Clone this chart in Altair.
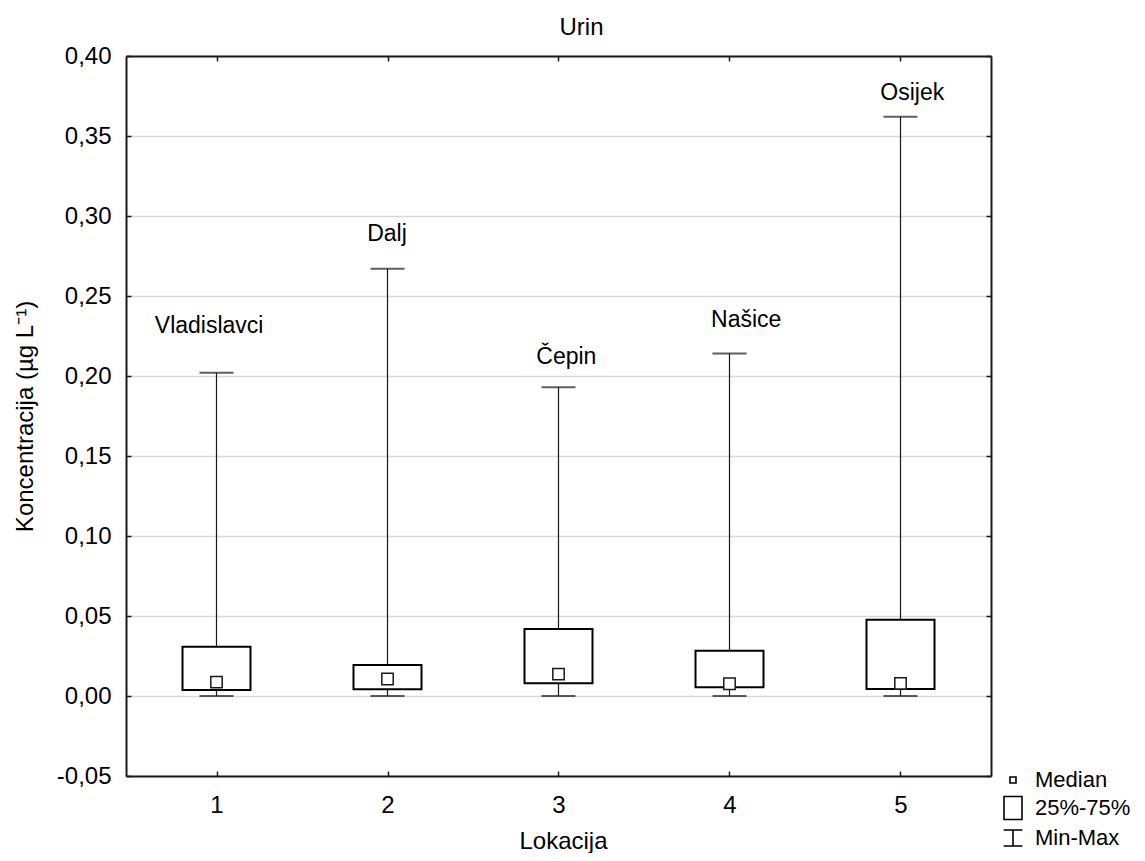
import altair as alt
import pandas as pd

# ---- data ----
locations = [1, 2, 3, 4, 5]
names = ["Vladislavci", "Dalj", "Čepin", "Našice", "Osijek"]
mins = [0.0, 0.0, 0.0, 0.0, 0.0]
q1 = [0.0037, 0.0042, 0.0079, 0.0054, 0.0044]
medians = [0.0087, 0.0106, 0.0137, 0.0077, 0.0079]
q3 = [0.0308, 0.0194, 0.0419, 0.0283, 0.0477]
maxs = [0.202, 0.267, 0.193, 0.214, 0.362]
label_x = [0.957, 1.997, 3.046, 4.098, 5.069]
label_y = [0.231, 0.289, 0.212, 0.235, 0.377]
y_ticks = [-0.05, 0.0, 0.05, 0.10, 0.15, 0.20, 0.25, 0.30, 0.35, 0.40]
legend_labels = ["Median", "25%-75%", "Min-Max"]

df = pd.DataFrame({
    "loc": locations, "name": names, "mn": mins, "q1": q1,
    "med": medians, "q3": q3, "mx": maxs, "lx": label_x, "ly": label_y,
})
leg = pd.DataFrame({"item": legend_labels})

FONT = "Liberation Sans"
INK = "#1a1a1a"
W, H = 865, 720
xs = alt.Scale(domain=[0.5, 5.5], nice=False, zero=False)
ys = alt.Scale(domain=[-0.05, 0.40], nice=False, zero=False)
ylab = "replace(replace(format(datum.value, '.2f'), '.', ','), '\u2212', '-')"

base = alt.Chart(df)

# whiskers + main labelled axes
whisk = base.mark_rule(color=INK, strokeWidth=1.2).encode(
    x=alt.X("loc:Q", scale=xs, axis=alt.Axis(
        orient="bottom", values=locations, format="d", ticks=False, tickSize=0,
        labelPadding=17, labelFontSize=24, labelColor="black", grid=False,
        domainColor=INK, domainWidth=2, title="Lokacija", titleFontSize=24,
        titleFontWeight="normal", titleColor="black", titleX=437, titleY=72,
        titleBaseline="alphabetic", titleAlign="center")),
    y=alt.Y("mn:Q", scale=ys, axis=alt.Axis(
        orient="left", values=y_ticks, labelExpr=ylab, ticks=False, tickSize=0,
        labelPadding=15, labelFontSize=24, labelColor="black", labelBaseline="middle",
        grid=True, gridColor="#d9d9d9", gridWidth=1.3,
        domainColor=INK, domainWidth=2,
        title="Koncentracija (µg L⁻¹)", titleFontSize=24, titleFontWeight="normal",
        titleColor="black", titleAngle=270, titleX=-101, titleY=360,
        titleAlign="center", titleBaseline="middle")),
    y2="mx:Q",
)

# boxes (also carry the inward ticks on bottom and left edges)
boxes = base.mark_bar(size=68, fill="white", stroke="black", strokeWidth=2).encode(
    x=alt.X("loc:Q", scale=xs, axis=alt.Axis(
        orient="top", offset=-H, values=locations, labels=False, domain=False,
        ticks=True, tickSize=5, tickColor=INK, tickWidth=1.5, grid=False, title=None)),
    y=alt.Y("q1:Q", scale=ys, axis=alt.Axis(
        orient="right", offset=-W, values=y_ticks, labels=False, domain=False,
        ticks=True, tickSize=5, tickColor=INK, tickWidth=1.5, grid=False, title=None)),
    y2="q3:Q",
)

# max caps (carry top and right frame lines with inward ticks, and the chart title)
cap_max = base.mark_tick(orient="horizontal", size=34, thickness=2, color=INK).encode(
    x=alt.X("loc:Q", scale=xs, axis=alt.Axis(
        orient="bottom", offset=-H, values=locations, labels=False, domain=True,
        domainColor=INK, domainWidth=2, ticks=True, tickSize=5,
        tickColor=INK, tickWidth=1.5, grid=False,
        title="Urin", titleFontSize=24, titleFontWeight="normal", titleColor="black",
        titleX=455, titleY=-22, titleBaseline="alphabetic", titleAlign="center")),
    y=alt.Y("mx:Q", scale=ys, axis=alt.Axis(
        orient="left", offset=-W, values=y_ticks, labels=False, domain=True,
        domainColor=INK, domainWidth=2, ticks=True, tickSize=5,
        tickColor=INK, tickWidth=1.5, grid=False, title=None)),
)

cap_min = base.mark_tick(orient="horizontal", size=34, thickness=2, color=INK).encode(
    x=alt.X("loc:Q", scale=xs, axis=None),
    y=alt.Y("mn:Q", scale=ys, axis=None),
)

med = base.mark_square(size=130, fill="white", stroke=INK, strokeWidth=1.5, opacity=1).encode(
    x=alt.X("loc:Q", scale=xs, axis=None),
    y=alt.Y("med:Q", scale=ys, axis=None),
)

labels = base.mark_text(fontSize=23, font=FONT, color="black", align="center",
                        baseline="middle").encode(
    x=alt.X("lx:Q", scale=xs, axis=None),
    y=alt.Y("ly:Q", scale=ys, axis=None),
    text="name:N",
)

legend_layer = alt.Chart(leg).mark_point(opacity=0, filled=False).encode(
    shape=alt.Shape("item:N", scale=alt.Scale(
        domain=legend_labels,
        range=[
            "M-0.25,-0.25H0.25V0.25H-0.25Z",
            "M-0.75,-0.96H0.75V0.96H-0.75Z",
            "M-0.78,-0.67H0.78M0,-0.67V0.67M-0.78,0.67H0.78",
        ]),
        legend=alt.Legend(
            orient="none", legendX=874, legendY=711, title=None, padding=0,
            symbolSize=576, symbolType="square", symbolFillColor="white",
            symbolStrokeColor="black", symbolStrokeWidth=1.6, symbolOpacity=1,
            labelFontSize=22, labelFont=FONT, labelColor="black", labelOffset=9,
            rowPadding=2, labelLimit=300)),
)

chart = alt.layer(whisk, boxes, cap_max, cap_min, med, labels, legend_layer).resolve_axis(
    x="independent", y="independent"
).properties(
    width=W, height=H,
    padding={"left": 118, "top": 48, "right": 146, "bottom": 77},
    autosize=alt.AutoSizeParams(type="none"),
).configure(font=FONT).configure_view(stroke=None)

chart.save("out.html", embed_options={"renderer": "svg", "actions": False})
